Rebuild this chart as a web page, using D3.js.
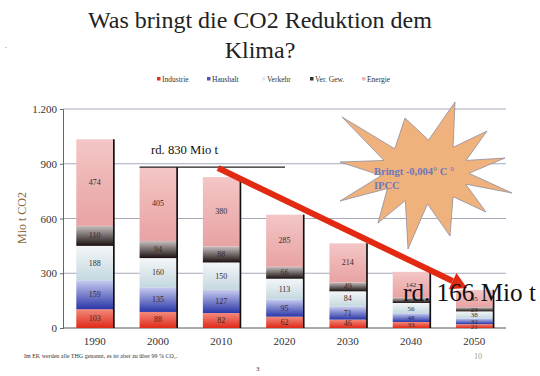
<!DOCTYPE html>
<html>
<script src='https://d3js.org/d3.v7.min.js'></script>
<body style="margin:0;background:#fff">
<div id='vis'></div>
<script>
// data
const years = ['1990', '2000', '2010', '2020', '2030', '2040', '2050'];
const series = ['Industrie', 'Haushalt', 'Verkehr', 'Ver. Gew.', 'Energie'];
const industrie = [103, 88, 82, 62, 46, 33, 21];
const haushalt = [159, 135, 127, 95, 71, 48, 32];
const verkehr = [188, 160, 150, 113, 84, 56, 38];
const verGew = [110, 94, 88, 66, 49, 29, 23];
const energie = [474, 405, 380, 285, 214, 142, 95];
const yTicks = [0, 300, 600, 900, 1200];

const FF = '"Liberation Serif", "DejaVu Serif", serif';

const W = 540, H = 376;
const svg = d3.select('#vis').append('svg').attr('width', W).attr('height', H)
    .attr('font-family', FF);

// scale a text's font size so it spans a given width
function fit(sel, width) {
    const w = sel.node().getComputedTextLength();
    const fs = +sel.attr('font-size');
    if (w > 0) sel.attr('font-size', fs * width / w);
    return sel;
}

// gradients (bottom dark -> top light)
const grads = [
    ['#e02a18', '#f28a7c'],
    ['#2a36a8', '#c8ccf0'],
    ['#c4d8e0', '#f4f6f8'],
    ['#1a1010', '#c8c0c0'],
    ['#e8a2a2', '#f4c6c6']
];
const legendColors = ['#e0301e', '#4a56b8', '#e4eaee', '#333', '#f0b4b4'];
const defs = svg.append('defs');
grads.forEach((g, i) => {
    const lg = defs.append('linearGradient').attr('id', 'g' + i)
        .attr('x1', 0).attr('y1', 1).attr('x2', 0).attr('y2', 0);
    lg.append('stop').attr('offset', '0%').attr('stop-color', g[0]);
    lg.append('stop').attr('offset', '100%').attr('stop-color', g[1]);
});

// title
const t1 = svg.append('text').attr('x', 260).attr('y', 28).attr('text-anchor', 'middle')
    .attr('font-size', 25).attr('fill', '#222').text('Was bringt die CO2 Reduktion dem');
fit(t1, 344);
const fsTitle = +t1.attr('font-size');
svg.append('text').attr('x', 260).attr('y', 58).attr('text-anchor', 'middle')
    .attr('font-size', fsTitle).attr('fill', '#222').text('Klima?');
svg.append('text').attr('x', 5).attr('y', 48).attr('font-size', 8).attr('fill', '#555').text('.');

// legend
const legX = [157, 207, 262, 310, 362];
series.forEach((s, i) => {
    svg.append('rect').attr('x', legX[i]).attr('y', 77).attr('width', 3.5).attr('height', 3.5)
        .attr('fill', legendColors[i]);
    svg.append('text').attr('x', legX[i] + 5).attr('y', 81.5).attr('font-size', 7.5)
        .attr('fill', '#333').text(s);
});

// scales
const x = d3.scaleBand().domain(years).range([63, 506]).paddingInner(0.42).paddingOuter(0.21);
const y = d3.scaleLinear().domain([0, 1200]).range([328, 109]);

// grid
svg.append('g').selectAll('line').data(yTicks.slice(1)).join('line')
    .attr('x1', 63).attr('x2', 506).attr('y1', d => y(d)).attr('y2', d => y(d))
    .attr('stroke', '#a8aabb').attr('stroke-width', 1);

// axes
const yAxis = svg.append('g').attr('transform', 'translate(63,0)')
    .call(d3.axisLeft(y).tickValues(yTicks).tickSize(3)
        .tickFormat(d => d === 1200 ? '1.200' : d));
yAxis.attr('font-family', FF);
yAxis.select('.domain').attr('stroke', '#666');
yAxis.selectAll('.tick line').attr('stroke', '#666');
yAxis.selectAll('.tick text').attr('font-size', 11).attr('fill', '#333');

const xAxis = svg.append('g').attr('transform', 'translate(0,328)')
    .call(d3.axisBottom(x).tickSize(0).tickPadding(9));
xAxis.attr('font-family', FF);
xAxis.select('.domain').attr('stroke', '#555').attr('d', 'M63,0H506');
xAxis.selectAll('.tick text').attr('font-size', 11).attr('fill', '#333');

svg.append('text').attr('transform', 'translate(26,218) rotate(-90)')
    .attr('text-anchor', 'middle').attr('font-size', 12).attr('fill', '#8c6a3c').text('Mio t CO2');

// stacked bars
const rows = years.map((yr, i) => ({
    year: yr, Industrie: industrie[i], Haushalt: haushalt[i], Verkehr: verkehr[i],
    'Ver. Gew.': verGew[i], Energie: energie[i]
}));
const stack = d3.stack().keys(series)(rows);

// shadow on right side of each bar
svg.append('g').selectAll('rect').data(rows).join('rect')
    .attr('x', d => x(d.year) + x.bandwidth() - 0.5)
    .attr('y', d => y(d3.sum(series, k => d[k])))
    .attr('width', 2.2)
    .attr('height', d => 328 - y(d3.sum(series, k => d[k])))
    .attr('fill', '#111');

const layers = svg.append('g').selectAll('g').data(stack).join('g')
    .attr('fill', (d, i) => `url(#g${i})`);
layers.selectAll('rect').data(d => d).join('rect')
    .attr('x', d => x(d.data.year))
    .attr('y', d => y(d[1]))
    .attr('width', x.bandwidth())
    .attr('height', d => y(d[0]) - y(d[1]));
layers.selectAll('text').data((d, i) => d.map(v => ({ v, key: stack[i].key }))).join('text')
    .attr('x', d => x(d.v.data.year) + x.bandwidth() / 2)
    .attr('y', d => (y(d.v[0]) + y(d.v[1])) / 2 + 2.5)
    .attr('text-anchor', 'middle')
    .attr('font-size', d => d.v.data.year >= '2040' ? 7 : 8)
    .attr('fill', '#3a2a2a')
    .text(d => d.v.data[d.key]);

// reference line 830
const total2000 = d3.sum(series, k => rows[1][k]);
svg.append('line').attr('x1', x('2000')).attr('x2', 285)
    .attr('y1', y(total2000)).attr('y2', y(total2000))
    .attr('stroke', '#222').attr('stroke-width', 1.3);
fit(svg.append('text').attr('x', 151).attr('y', 154).attr('font-size', 13).attr('fill', '#111')
    .text('rd. 830 Mio t'), 67);

// star burst
const cx = 425, cy = 172;
const tips = [[30, -70], [62, -41], [80, -14], [87, 21], [61, 40], [25, 64], [-17, 77],
    [-47, 51], [-85, 29], [-85, -10], [-83, -55], [-20, -54]];
const pts = [];
tips.forEach((t, i) => {
    const n = tips[(i + 1) % tips.length];
    pts.push([cx + t[0], cy + t[1]]);
    const mx = (t[0] + n[0]) / 2, my = (t[1] + n[1]) / 2;
    const ang = Math.atan2(my, mx);
    pts.push([cx + Math.cos(ang) * 44, cy + Math.sin(ang) * 32]);
});
svg.append('path').attr('d', d3.line()(pts) + 'Z')
    .attr('fill', '#f0b27c').attr('stroke', '#8e8ea0').attr('stroke-width', 0.8);
svg.append('text').attr('x', 374).attr('y', 175).attr('font-size', 10.5).attr('font-weight', 'bold')
    .attr('fill', '#6a78bc').text('Bringt -0,004° C °');
svg.append('text').attr('x', 374).attr('y', 189).attr('font-size', 10.5).attr('font-weight', 'bold')
    .attr('fill', '#6a78bc').text('IPCC');

// red arrow
const ax1 = 218, ay1 = 168, ax2 = 467, ay2 = 288;
const ang = Math.atan2(ay2 - ay1, ax2 - ax1);
const hl = 16, hw = 9;
const bx = ax2 - Math.cos(ang) * hl, by = ay2 - Math.sin(ang) * hl;
svg.append('line').attr('x1', ax1).attr('y1', ay1).attr('x2', bx).attr('y2', by)
    .attr('stroke', '#e22a12').attr('stroke-width', 6);
svg.append('path').attr('d', d3.line()([
    [ax2, ay2],
    [bx + Math.sin(ang) * hw, by - Math.cos(ang) * hw],
    [bx - Math.sin(ang) * hw, by + Math.cos(ang) * hw]
]) + 'Z').attr('fill', '#e22a12');

fit(svg.append('text').attr('x', 403).attr('y', 301).attr('font-size', 22).attr('fill', '#111')
    .text('rd. 166 Mio t'), 133);

// footer
svg.append('text').attr('x', 24).attr('y', 358).attr('font-size', 6).attr('fill', '#333')
    .text('Im EK werden alle THG genannt, es ist aber zu über 99 % CO₂.');
svg.append('text').attr('x', 474).attr('y', 359).attr('font-size', 8).attr('fill', '#999').text('10');
svg.append('text').attr('x', 256).attr('y', 371).attr('font-size', 7).attr('fill', '#333').text('3');
</script>
</body>
</html>
